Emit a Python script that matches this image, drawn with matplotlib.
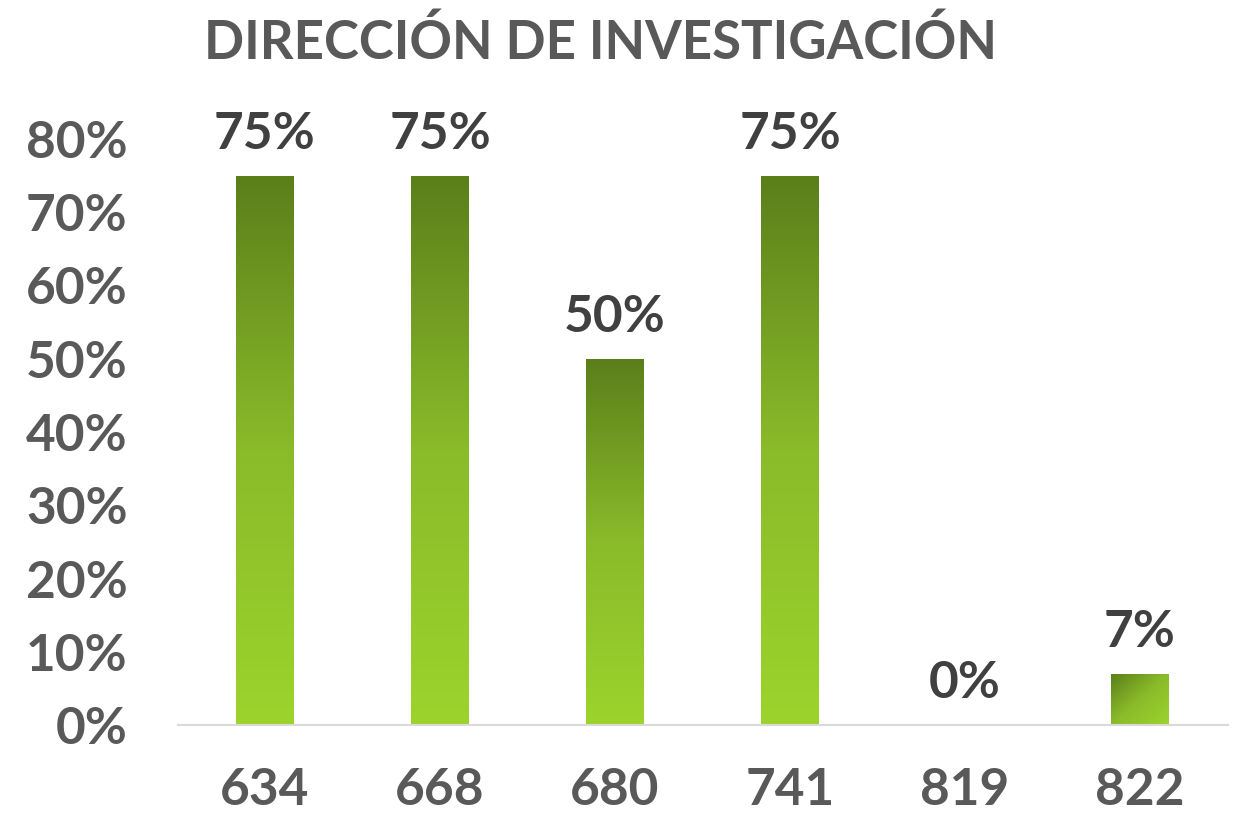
import numpy as np
import matplotlib
matplotlib.use("Agg")
import matplotlib.pyplot as plt
from matplotlib.colors import LinearSegmentedColormap

categories = ["634", "668", "680", "741", "819", "822"]
values = [0.75, 0.75, 0.50, 0.75, 0.0, 0.07]
yticks = [0, 0.1, 0.2, 0.3, 0.4, 0.5, 0.6, 0.7, 0.8]
title = "DIRECCIÓN DE INVESTIGACIÓN"

plt.rcParams['font.family'] = ['Lato', 'DejaVu Sans']

W, H = 1235, 818
fig = plt.figure(figsize=(W / 100, H / 100), dpi=100)
left, right = 177.5 / W, 1227.5 / W
bottom, top = (H - 725) / H, (H - 139) / H
ax = fig.add_axes([left, bottom, right - left, top - bottom])

x = np.arange(len(categories))
bars = ax.bar(x, values, width=0.33, color='none', edgecolor='none', zorder=2)

cmap = LinearSegmentedColormap.from_list('g', ['#9cd42c', '#8abb2a', '#5a7f1a'])
grad = np.linspace(0, 1, 256).reshape(-1, 1)
for b, v in zip(bars, values):
    if v <= 0:
        continue
    x0 = b.get_x()
    w = b.get_width()
    if v < 0.2:
        gx, gy = np.meshgrid(np.linspace(0, 1, 64), np.linspace(0, 1, 64))
        img = (gy + (1 - gx)) / 2
        im = ax.imshow(img, extent=[x0, x0 + w, 0, v], origin='lower', cmap=cmap,
                       aspect='auto', zorder=2, vmin=0, vmax=1)
    else:
        im = ax.imshow(grad, extent=[x0, x0 + w, 0, v], origin='lower', cmap=cmap,
                       aspect='auto', zorder=2, vmin=0, vmax=1)
    im.set_clip_path(b)

for xi, v in zip(x, values):
    ax.annotate(f"{int(round(v * 100))}%", (xi, v), xytext=(0, 13), textcoords='offset points',
                ha='center', va='bottom', fontsize=37, fontweight='bold', color='#404040')

ax.set_xlim(-0.5, len(categories) - 0.5)
ax.set_ylim(0, 0.8)
ax.set_xticks(x)
ax.set_xticklabels(categories)
ax.set_yticks(yticks)
ax.set_yticklabels([f"{int(round(t * 100))}%" for t in yticks])
ax.tick_params(axis='both', length=0, labelsize=37, colors='#595959')
ax.tick_params(axis='y', pad=36)
ax.tick_params(axis='x', pad=30)
for lab in ax.get_xticklabels() + ax.get_yticklabels():
    lab.set_fontweight('bold')
for s in ['top', 'right', 'left']:
    ax.spines[s].set_visible(False)
ax.spines['bottom'].set_color('#d9d9d9')
ax.spines['bottom'].set_linewidth(1.5)
ax.set_facecolor('none')

fig.text(600 / W, (H - 43) / H, title, ha='center', va='center', fontsize=38,
         fontweight='bold', color='#595959')

fig.savefig('out.png', dpi=100)
